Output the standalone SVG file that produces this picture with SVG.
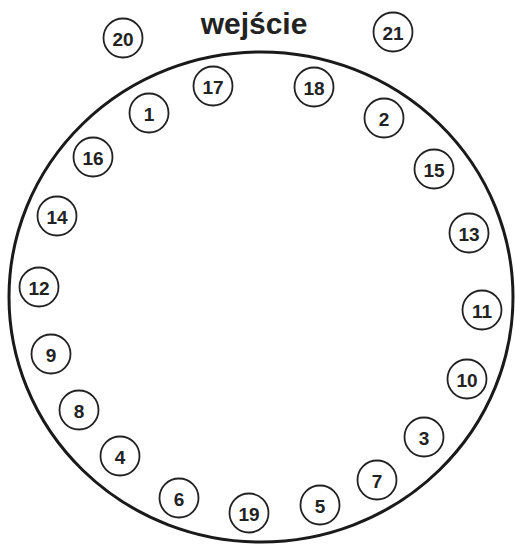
<svg xmlns="http://www.w3.org/2000/svg" width="515" height="545" viewBox="0 0 515 545">
<style>
.n circle{fill:#fff;stroke:#222;stroke-width:1.8}
.n text{font-family:"Liberation Sans",Arial,sans-serif;font-size:19px;font-weight:bold;fill:#222;text-anchor:middle;dominant-baseline:central}
.t{font-family:"Liberation Sans",Arial,sans-serif;font-size:30px;font-weight:bold;fill:#222;text-anchor:middle}
</style>
<rect width="515" height="545" fill="#fff"/>
<ellipse id="hall" cx="261" cy="297" rx="252" ry="245" fill="none" stroke="#1a1a1a" stroke-width="3"/>
<text id="entrance" class="t" x="254" y="34">wejście</text>
<g id="connectors"/>
<g id="n20" class="n"><circle cx="123" cy="38" r="19.5"/><text x="123" y="39">20</text></g>
<g id="n21" class="n"><circle cx="393" cy="32" r="19.5"/><text x="393" y="33">21</text></g>
<g id="n17" class="n"><circle cx="213" cy="86" r="19.5"/><text x="213" y="87">17</text></g>
<g id="n18" class="n"><circle cx="314" cy="87" r="19.5"/><text x="314" y="88">18</text></g>
<g id="n1" class="n"><circle cx="149" cy="113" r="19.5"/><text x="149" y="114">1</text></g>
<g id="n2" class="n"><circle cx="384" cy="118" r="19.5"/><text x="384" y="119">2</text></g>
<g id="n16" class="n"><circle cx="93" cy="157" r="19.5"/><text x="93" y="158">16</text></g>
<g id="n15" class="n"><circle cx="434" cy="169" r="19.5"/><text x="434" y="170">15</text></g>
<g id="n14" class="n"><circle cx="57" cy="216" r="19.5"/><text x="57" y="217">14</text></g>
<g id="n13" class="n"><circle cx="469" cy="233" r="19.5"/><text x="469" y="234">13</text></g>
<g id="n12" class="n"><circle cx="39" cy="287" r="19.5"/><text x="39" y="288">12</text></g>
<g id="n11" class="n"><circle cx="482" cy="310" r="19.5"/><text x="482" y="311">11</text></g>
<g id="n9" class="n"><circle cx="51" cy="354" r="19.5"/><text x="51" y="355">9</text></g>
<g id="n10" class="n"><circle cx="467" cy="379" r="19.5"/><text x="467" y="380">10</text></g>
<g id="n8" class="n"><circle cx="79" cy="410" r="19.5"/><text x="79" y="411">8</text></g>
<g id="n3" class="n"><circle cx="424" cy="437" r="19.5"/><text x="424" y="438">3</text></g>
<g id="n4" class="n"><circle cx="120" cy="456" r="19.5"/><text x="120" y="457">4</text></g>
<g id="n7" class="n"><circle cx="377" cy="480" r="19.5"/><text x="377" y="481">7</text></g>
<g id="n6" class="n"><circle cx="179" cy="498" r="19.5"/><text x="179" y="499">6</text></g>
<g id="n5" class="n"><circle cx="320" cy="505" r="19.5"/><text x="320" y="506">5</text></g>
<g id="n19" class="n"><circle cx="249" cy="513" r="19.5"/><text x="249" y="514">19</text></g>
</svg>
